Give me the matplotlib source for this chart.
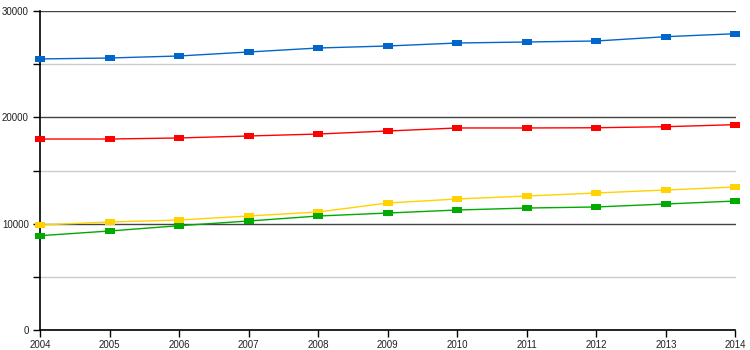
import matplotlib
matplotlib.use("Agg")
import matplotlib.pyplot as plt
from matplotlib.ticker import MultipleLocator

years = [2004, 2005, 2006, 2007, 2008, 2009, 2010, 2011, 2012, 2013, 2014]

blue = [25490, 25580, 25770, 26145, 26520, 26710, 26990, 27085, 27180, 27585, 27865]
red = [17960, 17960, 18060, 18245, 18430, 18715, 19000, 19000, 19020, 19120, 19310]
yellow = [9875, 10157, 10345, 10720, 11097, 11944, 12320, 12600, 12885, 13167, 13450]
green = [8870, 9310, 9810, 10250, 10720, 11000, 11285, 11470, 11570, 11850, 12130]

series = [(blue, '#0066cc'), (red, '#ff0000'), (yellow, '#ffd200'), (green, '#00aa00')]

plt.rcParams['font.family'] = ['Liberation Sans', 'DejaVu Sans']

# wide flat square marker like the original
rect = [(-1, -0.65), (1, -0.65), (1, 0.65), (-1, 0.65), (-1, -0.65)]

fig = plt.figure(figsize=(7.5, 3.5), dpi=100)
ax = fig.add_axes([40/750, 20/350, 695.5/750, 319/350])

for vals, col in series:
    ax.plot(years, vals, '-', color=col, lw=1, marker=rect, markersize=7.3,
            markeredgewidth=0, clip_on=False, zorder=3)

ax.set_xlim(2004, 2014)
ax.set_ylim(0, 30000)
ax.xaxis.set_major_locator(MultipleLocator(1))
ax.yaxis.set_major_locator(MultipleLocator(10000))
ax.yaxis.set_minor_locator(MultipleLocator(5000))

ax.grid(True, which='major', axis='y', color='#444444', lw=1)
ax.grid(True, which='minor', axis='y', color='#cccccc', lw=1)
ax.set_axisbelow(True)

for s in ['top', 'right']:
    ax.spines[s].set_visible(False)
for s in ['left', 'bottom']:
    ax.spines[s].set_color('black')
    ax.spines[s].set_linewidth(1.2)

ax.tick_params(axis='both', which='both', direction='out', length=5, width=1,
               color='black', labelsize=7, labelcolor='#222222', pad=2)
ax.tick_params(axis='y', which='major', pad=3)

fig.savefig('out.png', dpi=100)
